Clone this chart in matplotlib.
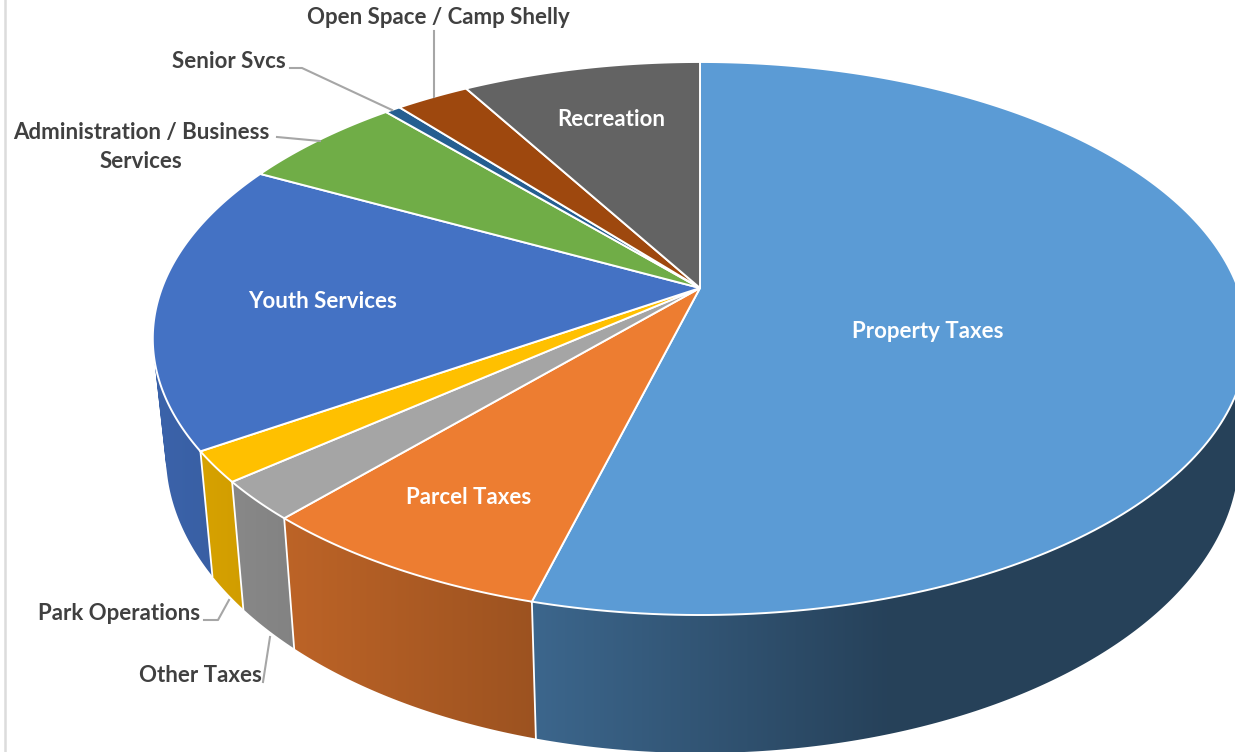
import matplotlib
matplotlib.use("Agg")
import matplotlib.pyplot as plt
import numpy as np
from matplotlib.path import Path
from matplotlib.patches import PathPatch

labels = ["Property Taxes", "Parcel Taxes", "Other Taxes", "Park Operations", "Youth Services",
          "Administration / Business\nServices", "Senior Svcs", "Open Space / Camp Shelly", "Recreation"]
values = [54.17, 7.5, 2.3, 1.8, 16.93, 5.8, 0.55, 2.6, 8.4]
colors = ["#5B9BD5", "#ED7D31", "#A5A5A5", "#FFC000", "#4472C4", "#70AD47", "#255E91", "#9E480E", "#636363"]

# where each label goes, pixels
label_pos = [(928, 331), (469, 498), (200, 675), (119, 613), (323, 301), (141, 147), (229, 61), (438, 17), (611, 120)]
label_col = ["white", "white", "#404040", "#404040", "white", "#404040", "#404040", "#404040", "white"]

leaders = [
    [(434, 31), (434, 97)],
    [(290, 68), (302, 68), (392, 110)],
    [(277, 137), (320, 141)],
    [(204, 620), (218, 620), (229, 600)],
    [(263, 682), (270, 637)],
]

# perspective of the pie, fitted on the picture
cx, cy = 700, 288
A, B, k = 267.3, 538.0, 0.1826


def top_xy(ang):
    u, v = np.sin(ang), np.cos(ang)
    w = 1 + k * v
    return cx + B * u / w, cy - A * v / w


def bottom_xy(ang):
    x, y = top_xy(ang)
    s = np.where(x < cx, 0.976, 0.985)
    return cx + s * (x - cx), 1.08 * y + 88.8


def shade_row(col):
    xs = np.arange(0, 1236)
    f = np.interp(xs, [150, 533, 890, 1250], [0.87, 0.66, 0.42, 0.42])
    return (np.array(matplotlib.colors.to_rgb(col))[None, :] * f[:, None])[None, :, :]


fig = plt.figure(figsize=(12.35, 7.52), dpi=100)
ax = fig.add_axes([0, 0, 1, 1])
ax.axis("off")

edges = np.radians(np.cumsum([0] + values) / np.sum(values) * 360)

# side wall: a gradient image clipped to the strips of each slice
for i in range(len(values)):
    a = np.linspace(edges[i], edges[i + 1], max(int(np.degrees(edges[i + 1] - edges[i]) * 2), 2))
    tx, ty = top_xy(a)
    bx, by = bottom_xy(a)
    quads = []
    for j in range(len(a) - 1):
        q = np.array([[tx[j], ty[j]], [tx[j + 1], ty[j + 1]], [bx[j + 1], by[j + 1]], [bx[j], by[j]], [tx[j], ty[j]]])
        area = np.sum(q[:-1, 0] * q[1:, 1] - q[1:, 0] * q[:-1, 1])
        if area < 0:
            q = q[::-1]
        quads.append(Path(q, closed=True))
    clip = PathPatch(Path.make_compound_path(*quads), transform=ax.transData, facecolor="none", edgecolor="none")
    ax.add_patch(clip)
    im = ax.imshow(shade_row(colors[i]), extent=(0, 1236, 752, 0), aspect="auto", zorder=1, interpolation="bilinear")
    im.set_clip_path(clip)

ax.set_xlim(0, 1235)
ax.set_ylim(752, 0)

for e in edges:
    tx, ty = top_xy(e)
    bx, by = bottom_xy(e)
    ax.plot([tx, bx], [ty, by], color="white", lw=1.3, zorder=2)

# top face
for i in range(len(values)):
    a = np.linspace(edges[i], edges[i + 1], 200)
    tx, ty = top_xy(a)
    ax.fill(np.r_[cx, tx], np.r_[cy, ty], facecolor=colors[i], edgecolor="white", lw=1.4,
            joinstyle="miter", zorder=3)

for pts in leaders:
    xs, ys = zip(*pts)
    ax.plot(xs, ys, color="#A6A6A6", lw=1.5, zorder=4)

for t, (x, y), c in zip(labels, label_pos, label_col):
    ax.text(x, y, t, color=c, ha="center", va="center", fontsize=16, fontweight="bold",
            family="Lato", linespacing=1.45, zorder=5)

# frame edge left over from the screenshot
ax.plot([5, 5], [0, 752], color="#DCDCDC", lw=1.8, zorder=0)

fig.savefig("out.png", dpi=100)
